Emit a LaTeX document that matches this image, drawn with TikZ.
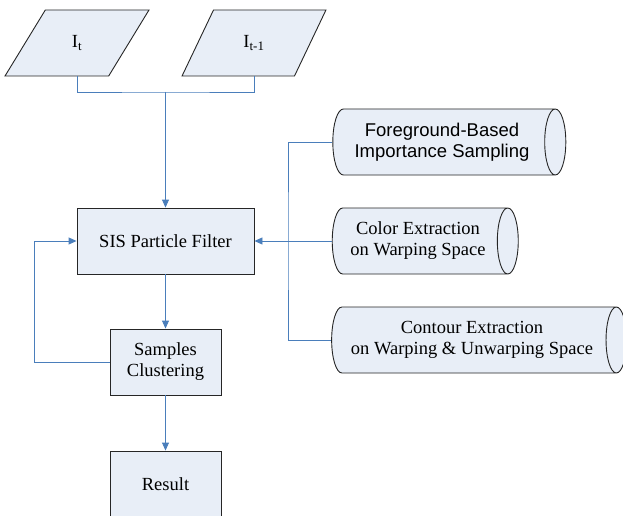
\documentclass[tikz,border=0pt]{standalone}
\usepackage{fontspec}
\setmainfont{Liberation Serif}
\newfontfamily\arialfont{Liberation Sans}
\usetikzlibrary{shapes.geometric,arrows.meta}
\definecolor{boxfill}{HTML}{E8EEF7}
\definecolor{linkblue}{HTML}{4A7EBB}
\tikzset{
  box/.style={draw=black!85,fill=boxfill,line width=0.9pt,align=center,font=\fontsize{18.5}{21}\selectfont},
  inbox/.style={box,trapezium,trapezium left angle=63.4,trapezium right angle=116.6,
    trapezium stretches=true,minimum width=144pt,minimum height=66pt},
  stepbox/.style={box,rectangle,minimum height=66pt},
  databox/.style={box,cylinder,aspect=0.5,minimum width=66pt,inner sep=2pt,cylinder uses custom fill,
    cylinder body fill=boxfill,cylinder end fill=boxfill},
  link/.style={draw=linkblue,line width=0.9pt},
  flow/.style={link,-{Triangle[length=8pt,width=7pt]}}
}
\begin{document}
\begin{tikzpicture}[x=1pt,y=-1pt]
\useasboundingbox (0,0) rectangle (623,516);
%inputs
\node[inbox] (it)  at (77,43)  {I\textsubscript{t}};
\node[inbox] (itm) at (254,43) {I\textsubscript{t-1}};
%main chain
\node[stepbox,minimum width=177pt] (sis)    at (165.5,241) {SIS Particle Filter};
\node[stepbox,minimum width=111pt] (samp)   at (165.5,362) {Samples\\Clustering};
\node[stepbox,minimum width=111pt] (result) at (165.5,484) {Result};
%data
\node[databox,minimum height=233pt,font=\arialfont\fontsize{18.5}{21}\selectfont] (fg) at (442,142)
  {Foreground-Based\\Importance Sampling};
\node[databox,minimum height=186pt] (col)  at (418,241) {Color Extraction\\on Warping Space};
\node[databox,minimum height=295pt] (cont) at (472,340) {Contour Extraction\\on Warping \& Unwarping Space};
%connectors
\coordinate (join) at (165.5,92);
\coordinate (back) at (34,362);
\coordinate (bus)  at (288,241);
\draw[link] (it.south) |- (join) -| (itm.south);
\draw[flow] (join) -- (sis.north);
\draw[flow] (sis.south) -- (samp.north);
\draw[flow] (samp.south) -- (result.north);
\draw[flow] (samp.west) -- (back) |- (sis.west);
\draw[link] (fg.west) -| (bus) |- (cont.west);
\draw[flow] (col.west) -- (sis.east);
\end{tikzpicture}
\end{document}
